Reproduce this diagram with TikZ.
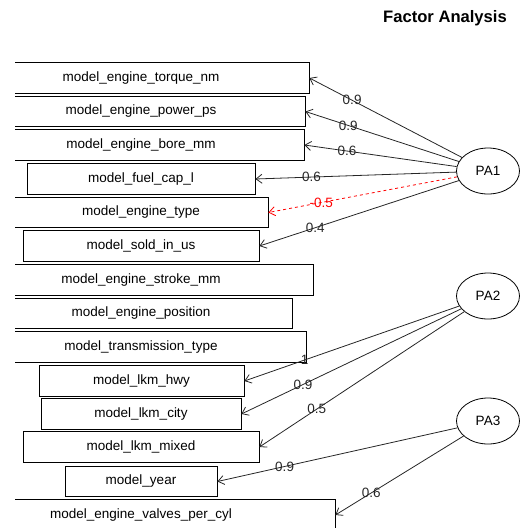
\documentclass[tikz,border=0pt]{standalone}
\usepackage{fontspec}
\setmainfont{Liberation Sans}
\usetikzlibrary{arrows.meta,shapes.geometric}
\begin{document}
\begin{tikzpicture}[x=1pt,y=-1pt,
  every node/.style={font=\fontsize{13.5}{16}\selectfont},
  var/.style={draw, rectangle, inner sep=0pt, minimum height=30.5pt, line width=0.8pt},
  factor/.style={draw, ellipse, minimum width=63pt, minimum height=46pt, inner sep=0pt, line width=0.8pt},
  load/.style={-{Straight Barb[length=6pt,width=9pt]}, line width=0.8pt, black!85},
  neg/.style={load, red, dashed},
  lbl/.style={pos=0.72, inner sep=0pt}]
\useasboundingbox (0,0) rectangle (528,528);
\node[font=\fontsize{16.6}{20}\selectfont\bfseries] (title) at (445,18) {Factor Analysis};
\begin{scope}
  \clip (15,40) rectangle (528,528);
  % observed variables
  \node[var, minimum width=336pt] (torque) at (141,78) {model\_engine\_torque\_nm};
  \node[var, minimum width=328pt] (power) at (141,111.5) {model\_engine\_power\_ps};
  \node[var, minimum width=326pt] (bore) at (141,145) {model\_engine\_bore\_mm};
  \node[var, minimum width=228pt] (fuel) at (141,179) {model\_fuel\_cap\_l};
  \node[var, minimum width=254pt] (etype) at (141,212.5) {model\_engine\_type};
  \node[var, minimum width=236pt] (sold) at (141,246) {model\_sold\_in\_us};
  \node[var, minimum width=344pt] (stroke) at (141,280) {model\_engine\_stroke\_mm};
  \node[var, minimum width=302pt] (position) at (141,313.5) {model\_engine\_position};
  \node[var, minimum width=330pt] (trans) at (141,347) {model\_transmission\_type};
  \node[var, minimum width=205pt] (hwy) at (141.5,381) {model\_lkm\_hwy};
  \node[var, minimum width=200pt] (city) at (141,414) {model\_lkm\_city};
  \node[var, minimum width=236pt] (mixed) at (141,447) {model\_lkm\_mixed};
  \node[var, minimum width=152pt] (year) at (141,481.5) {model\_year};
  \node[var, minimum width=388pt] (valves) at (141,515) {model\_engine\_valves\_per\_cyl};
  % factors
  \node[factor] (PA1) at (488,171) {PA1};
  \node[factor] (PA2) at (488,296) {PA2};
  \node[factor] (PA3) at (488,421) {PA3};
  % loadings
  \draw[load] (PA1) -- node[lbl] {0.9} (torque.east);
  \draw[load] (PA1) -- node[lbl] {0.9} (power.east);
  \draw[load] (PA1) -- node[lbl] {0.6} (bore.east);
  \draw[load] (PA1) -- node[lbl] {0.6} (fuel.east);
  \draw[neg]  (PA1) -- node[lbl] {-0.5} (etype.east);
  \draw[load] (PA1) -- node[lbl] {0.4} (sold.east);
  \draw[load] (PA2) -- node[lbl] {1} (hwy.east);
  \draw[load] (PA2) -- node[lbl] {0.9} (city.east);
  \draw[load] (PA2) -- node[lbl] {0.5} (mixed.east);
  \draw[load] (PA3) -- node[lbl] {0.9} (year.east);
  \draw[load] (PA3) -- node[lbl] {0.6} (valves.east);
\end{scope}
\end{tikzpicture}
\end{document}
